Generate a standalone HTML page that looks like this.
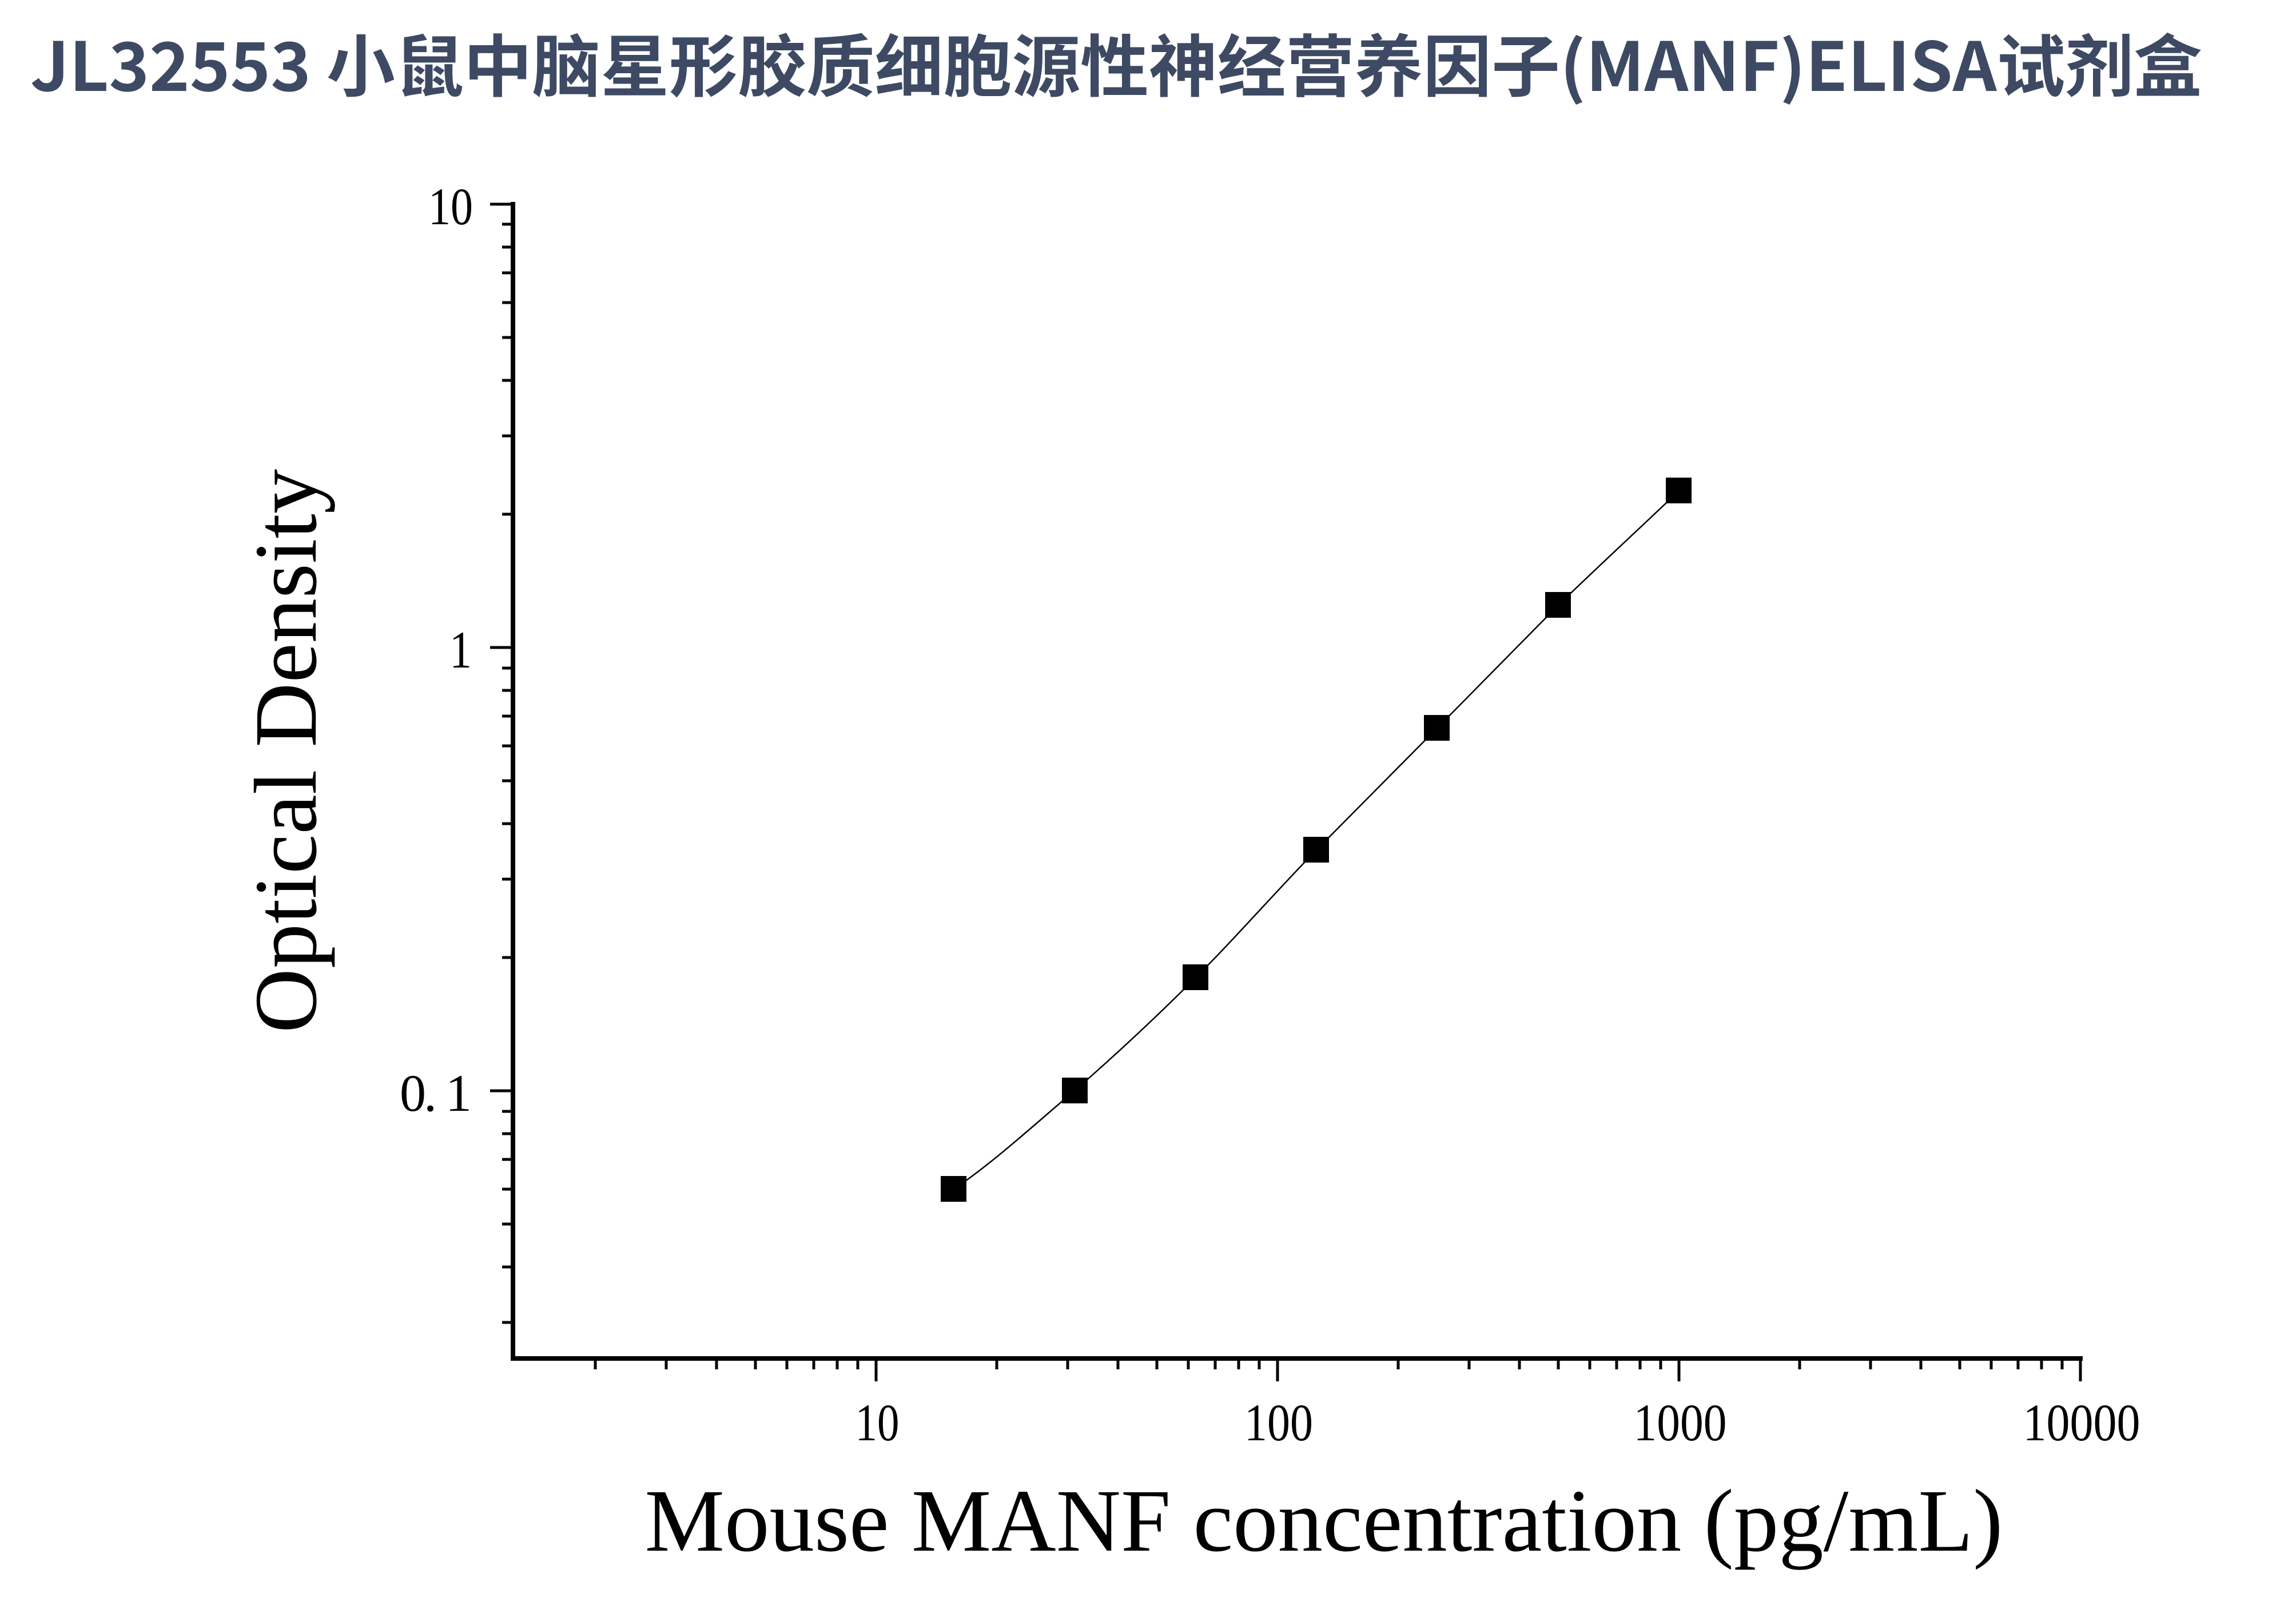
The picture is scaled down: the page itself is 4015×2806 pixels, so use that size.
<!DOCTYPE html>
<html><head><meta charset="utf-8"><style>
html,body{margin:0;padding:0;background:#fff;}
svg{display:block;}
</style></head><body>
<svg width="4015" height="2806" viewBox="0 0 4015 2806" xmlns="http://www.w3.org/2000/svg">
<rect width="4015" height="2806" fill="#fff"/>
<text x="53" y="159" font-family="'Noto Sans CJK SC', 'WenQuanYi Zen Hei', sans-serif" font-weight="bold" font-size="118" fill="#3e4a63" textLength="3798" lengthAdjust="spacingAndGlyphs">JL32553 小鼠中脑星形胶质细胞源性神经营养因子(MANF)ELISA试剂盒</text>

<g stroke="#000" fill="none">
<line x1="897" y1="353" x2="897" y2="2379" stroke-width="8"/>
<line x1="893" y1="2375" x2="3642" y2="2375" stroke-width="8"/>
<g stroke-width="5">
<line x1="857" y1="357" x2="897" y2="357"/>
<line x1="857" y1="1132" x2="897" y2="1132"/>
<line x1="857" y1="1907" x2="897" y2="1907"/>
<line x1="1532" y1="2375" x2="1532" y2="2415"/>
<line x1="2234" y1="2375" x2="2234" y2="2415"/>
<line x1="2936" y1="2375" x2="2936" y2="2415"/>
<line x1="3638" y1="2371" x2="3638" y2="2415"/>
</g>
<g stroke-width="5">
<path d="M878 899H897M878 762H897M878 665H897M878 590H897M878 529H897M878 477H897M878 432H897M878 392H897
M878 1674H897M878 1537H897M878 1440H897M878 1365H897M878 1304H897M878 1252H897M878 1207H897M878 1168H897
M878 2312H897M878 2215H897M878 2140H897M878 2079H897M878 2027H897M878 1982H897M878 1943H897"/>
<path d="M1041 2375V2394M1165 2375V2394M1253 2375V2394M1321 2375V2394M1376 2375V2394M1423 2375V2394M1464 2375V2394M1500 2375V2394
M1743 2375V2394M1867 2375V2394M1955 2375V2394M2023 2375V2394M2078 2375V2394M2125 2375V2394M2166 2375V2394M2202 2375V2394
M2445 2375V2394M2569 2375V2394M2657 2375V2394M2725 2375V2394M2780 2375V2394M2827 2375V2394M2868 2375V2394M2904 2375V2394
M3147 2375V2394M3271 2375V2394M3359 2375V2394M3427 2375V2394M3482 2375V2394M3529 2375V2394M3570 2375V2394M3606 2375V2394"/>
</g>
<path stroke-width="2.5" d="M1668,2079 C1740,2030 1810,1965 1879,1907 C1950,1845 2020,1780 2091,1709 C2160,1640 2230,1560 2302,1486 C2372,1415 2443,1344 2513,1273 C2584,1201 2654,1130 2725,1058 C2795,990 2866,925 2936,858"/>
</g>
<g fill="#000">
<rect x="1645" y="2056" width="45" height="45"/>
<rect x="1857" y="1884" width="45" height="45"/>
<rect x="2068" y="1686" width="45" height="45"/>
<rect x="2279" y="1463" width="45" height="45"/>
<rect x="2490" y="1250" width="45" height="45"/>
<rect x="2702" y="1035" width="45" height="45"/>
<rect x="2913" y="835" width="45" height="45"/>
</g>

<g font-family="'Liberation Serif', serif" font-size="92" fill="#000">
<text x="827" y="392" text-anchor="end" textLength="78" lengthAdjust="spacingAndGlyphs">10</text>
<text x="825" y="1167" text-anchor="end" textLength="39" lengthAdjust="spacingAndGlyphs">1</text>
<text x="825" y="1942" text-anchor="end" textLength="126" lengthAdjust="spacing">0. 1</text>
<text x="1534" y="2518" text-anchor="middle" textLength="77" lengthAdjust="spacingAndGlyphs">10</text>
<text x="2236" y="2518" text-anchor="middle" textLength="120" lengthAdjust="spacingAndGlyphs">100</text>
<text x="2938" y="2518" text-anchor="middle" textLength="163" lengthAdjust="spacingAndGlyphs">1000</text>
<text x="3640" y="2518" text-anchor="middle" textLength="205" lengthAdjust="spacingAndGlyphs">10000</text>
</g>
<text x="2315" y="2711" text-anchor="middle" font-family="'Liberation Serif', serif" font-size="156" fill="#000" textLength="2375" lengthAdjust="spacingAndGlyphs">Mouse MANF concentration (pg/mL)</text>
<text transform="translate(552,1313) rotate(-90)" text-anchor="middle" font-family="'Liberation Serif', serif" font-size="156" fill="#000" textLength="986" lengthAdjust="spacingAndGlyphs">Optical Density</text>
</svg>
</body></html>
